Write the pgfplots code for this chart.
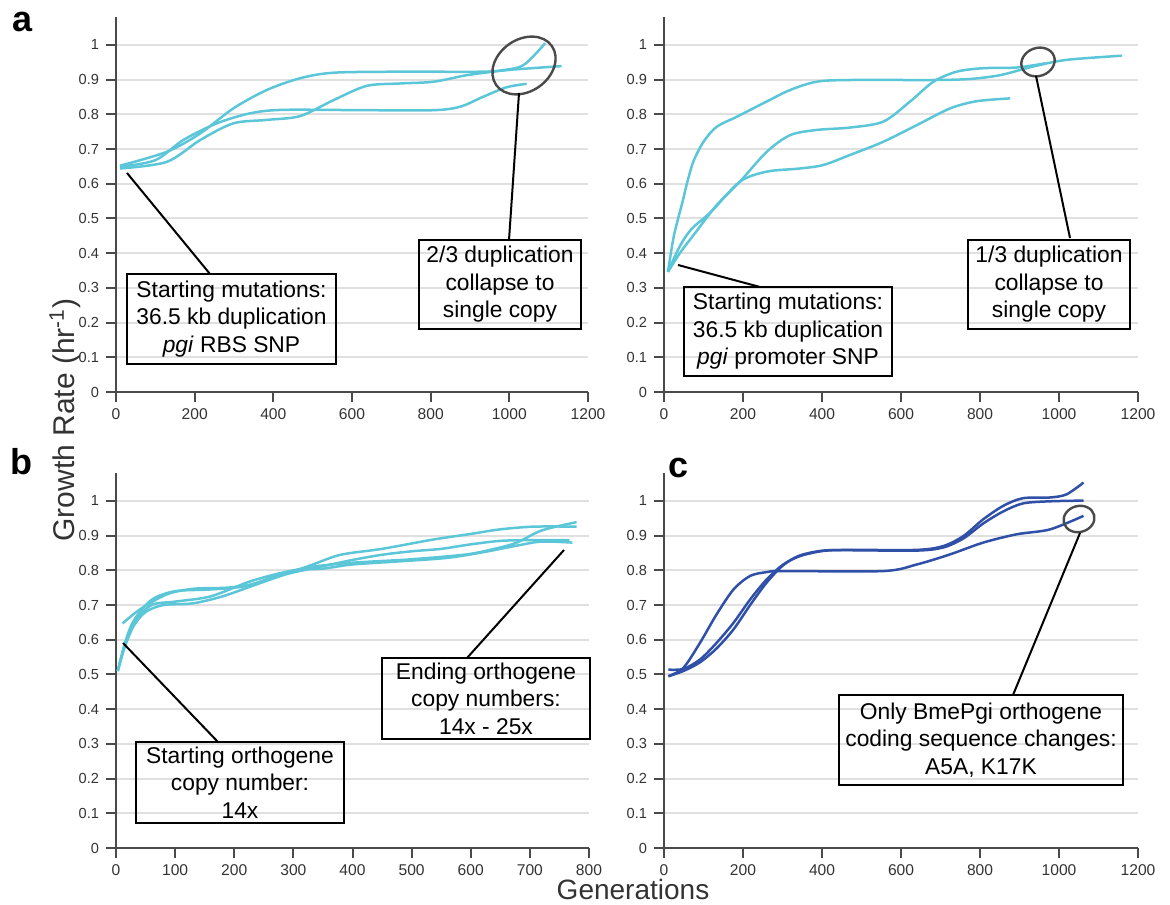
\documentclass[border=0pt]{standalone}
\usepackage{pgfplots}
\pgfplotsset{compat=1.18}
\usepackage{fontspec}
\setmainfont{Liberation Sans}
\definecolor{cyanl}{HTML}{5CC6D9}
\definecolor{darkb}{HTML}{3050A8}
\definecolor{axgray}{HTML}{4A4A4A}
\definecolor{gridg}{HTML}{E0E0E0}
\definecolor{labg}{HTML}{333333}
\pgfplotsset{
  gpanel/.style={
    scale only axis, anchor=origin,
    width=236pt, height=187.4pt,
    xmin=0, ymin=0, ymax=1.08,
    axis lines*=left,
    axis line style={axgray, line width=1pt},
    tick align=outside,
    major tick length=5pt,
    tick style={axgray, line width=1pt},
    ytick={0,0.1,0.2,0.3,0.4,0.5,0.6,0.7,0.8,0.9,1},
    yticklabels={0,0.1,0.2,0.3,0.4,0.5,0.6,0.7,0.8,0.9,1},
    ymajorgrids, grid style={gridg, line width=1pt},
    yticklabel style={font=\fontsize{7.3}{8}\selectfont, text=labg},
    xticklabel style={font=\fontsize{7.8}{8}\selectfont, text=labg},
    /pgf/number format/assume math mode=true,
    /pgf/number format/1000 sep={},
    clip=false,
  },
  crv/.style={line width=1.25pt, smooth, tension=0.5},
}
\tikzset{
  anbox/.style={draw=black, line width=1pt, align=center, inner sep=0pt,
    font=\fontsize{11.4}{13.8}\selectfont},
  anline/.style={black, line width=1pt},
  anell/.style={axgray, line width=1.2pt},
}
\begin{document}
\begin{tikzpicture}
\useasboundingbox (0,0) rectangle (585pt,452pt);

% ---------- panel a, left ----------
\begin{axis}[gpanel, at={(58pt,256pt)}, xmax=1200, xtick={0,200,400,600,800,1000,1200}]
\addplot[cyanl, crv] coordinates {(10,0.652) (129,0.692) (214,0.745) (298,0.817) (383,0.870) (468,0.904) (553,0.920) (722,0.923) (934,0.923) (1019,0.930) (1133,0.939)};
\addplot[cyanl, crv] coordinates {(10,0.649) (100,0.668) (171,0.726) (256,0.774) (341,0.803) (425,0.813) (637,0.812) (807,0.812) (875,0.822) (934,0.851) (993,0.878) (1044,0.888)};
\addplot[cyanl, crv] coordinates {(10,0.644) (129,0.663) (214,0.726) (298,0.774) (383,0.784) (468,0.795) (553,0.841) (637,0.882) (722,0.889) (807,0.894) (892,0.913) (976,0.926) (1036,0.942) (1091,1.005)};
\end{axis}

% ---------- panel a, right ----------
\begin{axis}[gpanel, at={(332pt,256pt)}, width=237pt, xmax=1200, xtick={0,200,400,600,800,1000,1200}]
\addplot[cyanl, crv] coordinates {(10,0.346) (25,0.45) (48,0.553) (57,0.596) (74,0.663) (100,0.721) (133,0.764) (184,0.793) (260,0.837) (319,0.870) (386,0.894) (471,0.899) (682,0.899) (775,0.902) (851,0.913) (935,0.938) (1019,0.957) (1159,0.969)};
\addplot[cyanl, crv] coordinates {(10,0.346) (40,0.40) (80,0.46) (133,0.538) (192,0.606) (260,0.692) (319,0.740) (386,0.755) (471,0.762) (555,0.779) (623,0.837) (682,0.894) (741,0.923) (808,0.933) (893,0.935) (965,0.947)};
\addplot[cyanl, crv] coordinates {(10,0.346) (40,0.42) (70,0.47) (120,0.52) (192,0.606) (260,0.635) (344,0.644) (403,0.654) (471,0.683) (555,0.721) (640,0.769) (724,0.817) (792,0.838) (876,0.846)};
\end{axis}

% ---------- panel b ----------
\begin{axis}[gpanel, at={(58pt,28pt)}, width=236.5pt, xmax=800, xtick={0,100,200,300,400,500,600,700,800}]
\addplot[cyanl, crv] coordinates {(11,0.647) (41,0.688) (86,0.731) (131,0.747) (187,0.750) (230,0.760) (290,0.790) (350,0.812) (400,0.830) (450,0.845) (500,0.855) (550,0.862) (600,0.875) (650,0.885) (700,0.887) (767,0.887)};
\addplot[cyanl, crv] coordinates {(3,0.51) (15,0.58) (30,0.64) (50,0.68) (80,0.70) (130,0.705) (180,0.725) (230,0.755) (280,0.785) (330,0.815) (380,0.845) (450,0.862) (537,0.889) (600,0.905) (649,0.918) (706,0.926) (779,0.926)};
\addplot[cyanl, crv] coordinates {(3,0.51) (15,0.59) (30,0.655) (60,0.715) (100,0.74) (160,0.745) (220,0.755) (280,0.790) (330,0.810) (400,0.822) (500,0.832) (593,0.846) (640,0.862) (678,0.880) (720,0.915) (779,0.939)};
\addplot[cyanl, crv] coordinates {(3,0.51) (15,0.585) (30,0.65) (60,0.70) (100,0.71) (160,0.725) (230,0.77) (300,0.80) (350,0.805) (400,0.817) (480,0.826) (560,0.836) (620,0.852) (680,0.872) (720,0.883) (772,0.880)};
\end{axis}

% ---------- panel c ----------
\begin{axis}[gpanel, at={(332pt,28pt)}, width=237pt, xmax=1200, xtick={0,200,400,600,800,1000,1200}]
\addplot[darkb, crv] coordinates {(11,0.514) (49,0.516) (91,0.543) (133,0.591) (176,0.649) (218,0.716) (260,0.774) (302,0.817) (344,0.841) (403,0.856) (471,0.859) (640,0.859) (707,0.870) (758,0.899) (808,0.947) (859,0.986) (909,1.008) (977,1.010) (1019,1.019) (1062,1.053)};
\addplot[darkb, crv] coordinates {(11,0.495) (49,0.51) (91,0.535) (133,0.575) (176,0.630) (218,0.700) (260,0.765) (302,0.815) (344,0.843) (403,0.857) (471,0.858) (640,0.857) (707,0.866) (758,0.892) (808,0.935) (859,0.970) (909,0.993) (977,0.999) (1062,1.001)};
\addplot[darkb, crv] coordinates {(11,0.495) (49,0.519) (91,0.591) (133,0.673) (176,0.745) (218,0.784) (260,0.795) (302,0.798) (555,0.798) (640,0.817) (724,0.846) (808,0.880) (893,0.904) (977,0.918) (1062,0.957)};
\end{axis}

% ---------- annotations ----------
% a left
\draw[anline] (63.5pt,365.5pt) -- (105pt,315pt);
\node[anbox, minimum width=104.5pt, minimum height=45pt] at (115.75pt,292.5pt) {Starting mutations:\\36.5 kb duplication\\\textit{pgi} RBS SNP};
\draw[anell] (262pt,419.25pt) ellipse [x radius=17pt, y radius=13pt, rotate=35];
\draw[anline] (259.5pt,405.5pt) -- (254.5pt,332pt);
\node[anbox, minimum width=81pt, minimum height=44.5pt] at (250pt,309.75pt) {2/3 duplication\\collapse to\\single copy};
% a right
\draw[anline] (339pt,319.5pt) -- (380pt,308.5pt);
\node[anbox, minimum width=104pt, minimum height=44.5pt] at (394pt,286.25pt) {Starting mutations:\\36.5 kb duplication\\\textit{pgi} promoter SNP};
\draw[anell] (519pt,421pt) ellipse [x radius=8.5pt, y radius=7pt, rotate=20];
\draw[anline] (518pt,414pt) -- (535pt,333pt);
\node[anbox, minimum width=81pt, minimum height=44.5pt] at (524.5pt,309.75pt) {1/3 duplication\\collapse to\\single copy};
% b
\draw[anline] (61.5pt,130.5pt) -- (109pt,81pt);
\node[anbox, minimum width=104pt, minimum height=40.5pt] at (120pt,60.75pt) {Starting orthogene\\copy number:\\14x};
\draw[anline] (233.5pt,123pt) -- (282pt,177pt);
\node[anbox, minimum width=104pt, minimum height=40.5pt] at (243pt,102.75pt) {Ending orthogene\\copy numbers:\\14x - 25x};
% c
\draw[anell] (539.5pt,192.5pt) ellipse [x radius=7.8pt, y radius=6.5pt, rotate=15];
\draw[anline] (540pt,185.5pt) -- (506.5pt,104.5pt);
\node[anbox, minimum width=142pt, minimum height=45pt] at (490.5pt,82pt) {Only BmePgi orthogene\\coding sequence changes:\\A5A, K17K};

% panel letters and shared labels
\node[anchor=base west, font=\fontsize{18}{20}\selectfont\bfseries, inner sep=0pt] at (6pt,436pt) {a};
\node[anchor=base west, font=\fontsize{18}{20}\selectfont\bfseries, inner sep=0pt] at (5pt,214.5pt) {b};
\node[anchor=base west, font=\fontsize{18}{20}\selectfont\bfseries, inner sep=0pt] at (334pt,213pt) {c};
\node[rotate=90, font=\fontsize{15}{17}\selectfont, text=labg] at (32.5pt,242pt) {Growth Rate (hr\textsuperscript{-1})};
\node[font=\fontsize{14}{16}\selectfont, text=labg, inner sep=0pt] at (316.5pt,7.5pt) {Generations};
\end{tikzpicture}
\end{document}
